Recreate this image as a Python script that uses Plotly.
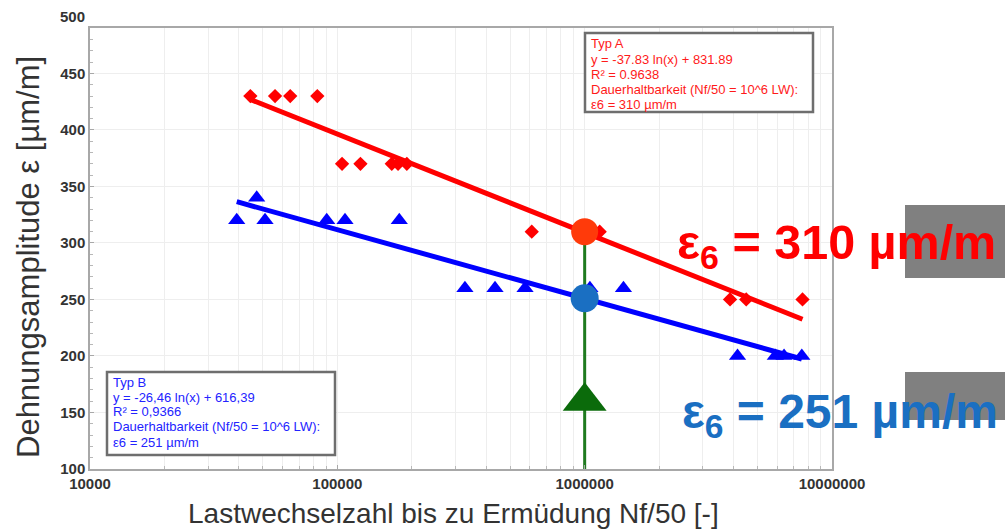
import math
import plotly.graph_objects as go

# ---- measured data -------------------------------------------------------
# Typ A (red diamonds)
n_a = [44500, 56000, 64500, 83000, 104500, 124000, 166000, 176000, 191000,
       611000, 1150000, 3870000, 4500000, 7600000]
eps_a = [430, 430, 430, 430, 370, 370, 370, 370, 370, 310, 310, 250, 250, 250]

# Typ B (blue triangles)
n_b = [39200, 47200, 51000, 90600, 107400, 178000, 328000, 434000, 574000,
       1050000, 1435000, 4150000, 5900000, 6400000, 7550000]
eps_b = [320, 340, 320, 320, 320, 320, 260, 260, 260, 260, 260, 200, 200, 200, 200]

# logarithmic regression y = a*ln(x) + b
fit_a = (-37.83, 831.89)
fit_b = (-26.46, 616.39)
fit_range_a = [44500, 7600000]
fit_range_b = [39200, 7550000]

# fatigue limit at Nf/50 = 10^6 load cycles
n_limit = 1000000
eps6_a = 310
eps6_b = 251
green_marker_eps = 160

x_ticks = [10000, 100000, 1000000, 10000000]
x_tick_text = ["10000", "100000", "1000000", "10000000"]
y_ticks = [100, 150, 200, 250, 300, 350, 400, 450]

box_a = ["Typ A", "y = -37.83 ln(x) + 831.89", "R² = 0.9638",
         "Dauerhaltbarkeit (Nf/50 = 10^6 LW):", "ε6 = 310 µm/m"]
box_b = ["Typ B", "y = -26,46 ln(x) + 616,39", "R² = 0,9366",
         "Dauerhaltbarkeit (Nf/50 = 10^6 LW):", "ε6 = 251 µm/m"]

# ---- geometry ------------------------------------------------------------
W, H = 1005, 531
ML, MR, MT, MB = 90, 173, 28, 62
PW, PH = W - ML - MR, H - MT - MB
FONT = "Liberation Sans, Arial, sans-serif"


def px(xp):
    return (xp - ML) / PW


def py(yp):
    return (H - MB - yp) / PH


def fit_y(fit, x):
    return fit[0] * math.log(x) + fit[1]


fig = go.Figure()

fig.add_trace(go.Scatter(
    x=[n_limit, n_limit], y=[eps6_a, 100], mode="lines",
    line=dict(color="#1f7a1f", width=3), showlegend=False))

fig.add_trace(go.Scatter(
    x=n_a, y=eps_a, mode="markers",
    marker=dict(symbol="diamond", size=11, color="#ff0000"), showlegend=False))
fig.add_trace(go.Scatter(
    x=n_b, y=eps_b, mode="markers",
    marker=dict(symbol="triangle-up", size=15, color="#0000ff"), showlegend=False))

fig.add_trace(go.Scatter(
    x=fit_range_a, y=[fit_y(fit_a, v) for v in fit_range_a], mode="lines",
    line=dict(color="#ff0000", width=5), showlegend=False))
fig.add_trace(go.Scatter(
    x=fit_range_b, y=[fit_y(fit_b, v) for v in fit_range_b], mode="lines",
    line=dict(color="#0000ff", width=5), showlegend=False))

fig.add_trace(go.Scatter(
    x=[n_limit], y=[green_marker_eps], mode="markers",
    marker=dict(symbol="triangle-up", size=38, color="#0b6b0b"), showlegend=False))
fig.add_trace(go.Scatter(
    x=[n_limit], y=[eps6_a], mode="markers",
    marker=dict(symbol="circle", size=27, color="#ff3a0a"), showlegend=False))
fig.add_trace(go.Scatter(
    x=[n_limit], y=[eps6_b], mode="markers",
    marker=dict(symbol="circle", size=28, color="#1a6fc2"), showlegend=False))

minor_x = [m * 10 ** e for e in range(4, 7) for m in range(2, 10)]

axis_common = dict(
    showline=True, linecolor="#a8a8a8", linewidth=1.5, mirror=True,
    ticks="inside", ticklen=4, tickcolor="#a8a8a8",
    showgrid=True, gridcolor="#eeeeee", gridwidth=1, zeroline=False,
    tickfont=dict(family=FONT, size=15, color="#333333", weight="bold"),
)

fig.update_xaxes(
    type="log", range=[4, 7], tickvals=x_ticks, ticktext=x_tick_text,
    minor=dict(tickvals=minor_x, ticks="inside", ticklen=3, tickcolor="#b8b8b8",
               showgrid=True, gridcolor="#eeeeee"),
    **axis_common)
fig.update_yaxes(
    range=[100, 490.2], tickvals=y_ticks,
    minor=dict(dtick=10, ticks="inside", ticklen=3, tickcolor="#b8b8b8",
               showgrid=False),
    **axis_common)

shapes = []
annotations = []

# "500" sits just above the frame top
annotations.append(dict(
    x=px(87), y=py(16.7), xref="paper", yref="paper", text="500", showarrow=False,
    xanchor="right", yanchor="middle",
    font=dict(family=FONT, size=15, color="#333333", weight="bold")))

# axis titles
annotations.append(dict(
    x=px(453), y=py(531), xref="paper", yref="paper",
    text="Lastwechselzahl bis zu Ermüdung Nf/50 [-]", showarrow=False,
    xanchor="center", yanchor="bottom",
    font=dict(family=FONT, size=28, color="#333333")))
annotations.append(dict(
    x=px(28), y=py(257), xref="paper", yref="paper",
    text="Dehnungsamplitude ε [µm/m]", showarrow=False, textangle=-90,
    xanchor="center", yanchor="middle",
    font=dict(family=FONT, size=31, color="#333333")))


# regression info boxes
def info_box(x0, y0, x1, y1, lines, color, text_x, line_ys):
    shapes.append(dict(
        type="rect", xref="paper", yref="paper",
        x0=px(x0), x1=px(x1), y0=py(y1), y1=py(y0),
        line=dict(color="#6e6e6e", width=2.5), fillcolor="white", layer="above"))
    for txt, ly in zip(lines, line_ys):
        annotations.append(dict(
            x=px(text_x), y=py(ly), xref="paper", yref="paper", text=txt,
            showarrow=False, xanchor="left", yanchor="middle",
            font=dict(family=FONT, size=13, color=color)))


info_box(585, 33, 813, 112, box_a, "#ff1a1a", 589, [44, 59, 74, 89.5, 104.5])
info_box(107, 372, 335, 455, box_b, "#2323ff", 111, [382, 397, 411.5, 426.5, 442])

# grey panels on the right
shapes.append(dict(type="rect", xref="paper", yref="paper",
                   x0=px(905), x1=px(1005), y0=py(278), y1=py(205),
                   line=dict(width=0), fillcolor="#808080"))
shapes.append(dict(type="rect", xref="paper", yref="paper",
                   x0=px(905), x1=px(1005), y0=py(420), y1=py(372),
                   line=dict(width=0), fillcolor="#808080"))

# large result labels
annotations.append(dict(
    x=px(675), y=py(246), xref="paper", yref="paper",
    text="ε<sub>6</sub> = 310 µm/m", showarrow=False,
    xanchor="left", yanchor="middle",
    font=dict(family=FONT, size=48.5, color="#ff0000", weight="bold")))
annotations.append(dict(
    x=px(680), y=py(415), xref="paper", yref="paper",
    text="ε<sub>6</sub> = 251 µm/m", showarrow=False,
    xanchor="left", yanchor="middle",
    font=dict(family=FONT, size=48, color="#1a6fc2", weight="bold")))

fig.update_layout(
    width=W, height=H, margin=dict(l=ML, r=MR, t=MT, b=MB),
    paper_bgcolor="white", plot_bgcolor="white",
    shapes=shapes, annotations=annotations, showlegend=False)

fig.write_html("out.html")
